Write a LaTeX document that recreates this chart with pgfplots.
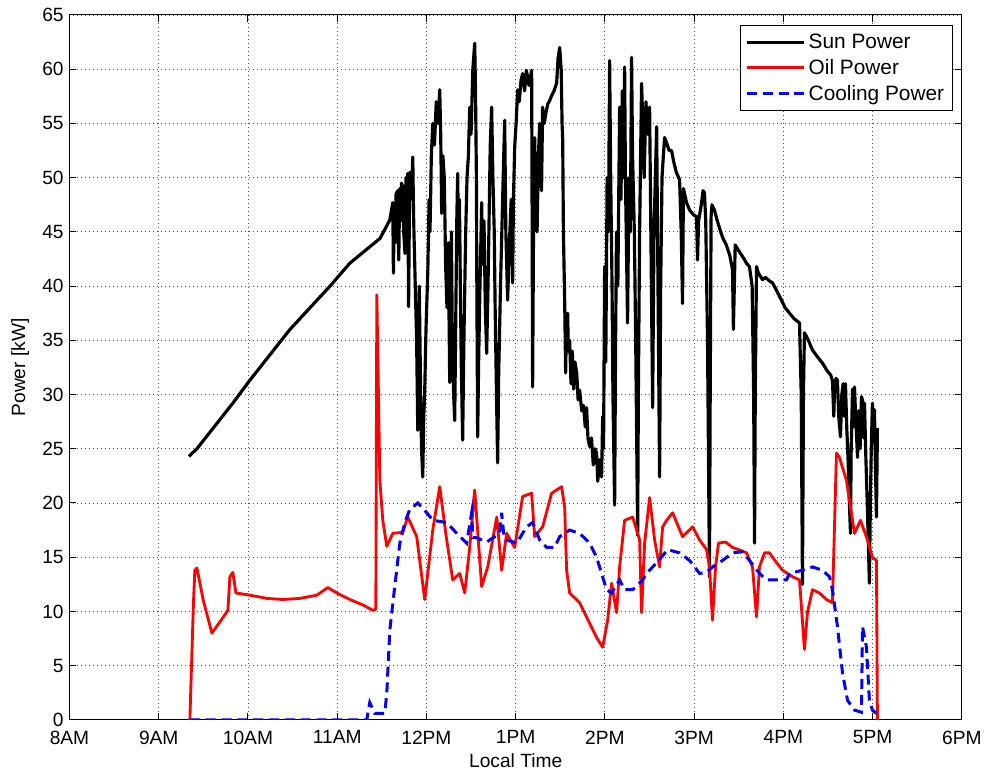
\documentclass[border=0pt]{standalone}
\usepackage{pgfplots}
\pgfplotsset{compat=1.18}
\usepackage{fontspec}
\setmainfont{Liberation Sans}
\begin{document}
\begin{tikzpicture}
\begin{axis}[
  scale only axis,
  width=535.5pt, height=423pt,
  xmin=8, xmax=18, ymin=0, ymax=65,
  xtick={8,9,...,18},
  xticklabels={8AM,9AM,10AM,11AM,12PM,1PM,2PM,3PM,4PM,5PM,6PM},
  ytick={0,5,...,65},
  /pgf/number format/assume math mode=true,
  tick align=inside,
  major tick length=4pt,
  xtick pos=both, ytick pos=both,
  grid=major,
  major grid style={dotted, black!70, line width=0.5pt},
  axis line style={line width=0.6pt},
  tick style={line width=0.6pt, black},
  ticklabel style={font=\fontsize{11.5}{13}\selectfont},
  xticklabel style={yshift=-3pt},
  label style={font=\fontsize{11.5}{13}\selectfont},
  xlabel={Local Time},
  ylabel={Power [kW]},
  xlabel style={yshift=1pt},
  ylabel style={yshift=1pt},
  legend style={at={(0.99,0.986)}, anchor=north east, draw=black, line width=0.5pt,
    font=\fontsize{12.5}{14}\selectfont, cells={anchor=west}, inner sep=3pt, row sep=1pt},
  legend image code/.code={\draw[#1] (0cm,0cm) -- (1.2cm,0cm);},
]
\addplot[black, line width=1.9pt, line join=round] coordinates {
(9.338,24.3) (9.428,25.0) (9.83,29.2) (10.02,31.3) (10.47,36.0) (10.92,40.0) (11.14,42.1) (11.48,44.4) (11.59,46.1) (11.623,47.7)
(11.63,41.2) (11.64,47.5) (11.65,44) (11.66,48.5) (11.679,48.8) (11.69,42.4) (11.70,49.0) (11.71,46) (11.72,49.5) (11.735,49.1) (11.745,45) (11.76,43) (11.77,50) (11.78,47) (11.791,50.4) (11.80,38.1) (11.813,50.5) (11.83,48) (11.847,51.9) (11.855,47) (11.86,45) (11.875,40) (11.89,35) (11.903,26.7) (11.91,33) (11.92,40) (11.935,30) (11.945,25) (11.959,22.4) (11.97,28) (11.98,30) (11.995,36) (12.015,41.2) (12.03,48) (12.04,45) (12.055,52) (12.071,55) (12.09,53) (12.11,57) (12.13,55) (12.149,58.1) (12.16,54) (12.171,46.7) (12.185,52) (12.20,50) (12.215,42) (12.23,38) (12.245,44) (12.261,31.1) (12.27,38) (12.28,45) (12.29,35) (12.305,30) (12.317,27.6) (12.33,38) (12.34,46) (12.350,50.4) (12.36,44) (12.37,48) (12.38,40) (12.39,33) (12.406,25.8) (12.42,35) (12.43,40) (12.44,45) (12.455,50) (12.47,52) (12.485,56.5) (12.50,54) (12.52,60) (12.541,62.4) (12.55,58) (12.56,50) (12.565,40) (12.574,26.1) (12.585,33) (12.60,40) (12.61,44) (12.619,47.7) (12.63,42) (12.645,46) (12.66,38) (12.675,33.8) (12.69,40) (12.70,45) (12.715,53) (12.731,56.5) (12.745,50) (12.76,45) (12.77,38) (12.785,30) (12.798,23.7) (12.81,32) (12.83,40) (12.845,45) (12.86,50) (12.877,55.3) (12.89,45) (12.910,38.7) (12.93,44) (12.95,48) (12.966,40.3) (12.975,48) (12.989,52.8) (13.005,55) (13.022,58.1) (13.04,57) (13.06,59) (13.078,59.6) (13.10,58) (13.12,59.9) (13.15,58.5) (13.179,59.9) (13.185,45) (13.190,30.7) (13.20,45) (13.213,53.7) (13.225,48) (13.24,45) (13.255,52) (13.269,55) (13.28,50) (13.29,48.8) (13.302,56.5) (13.32,55) (13.34,56) (13.36,56.8) (13.381,57.1) (13.40,57.5) (13.43,58) (13.459,58.7) (13.475,61) (13.493,62) (13.51,60) (13.52,55) (13.527,53.5) (13.535,45) (13.549,38.7) (13.56,32) (13.57,37) (13.583,37.5) (13.59,34) (13.605,35) (13.62,31) (13.635,34) (13.65,30.5) (13.665,33) (13.684,32) (13.70,29.5) (13.717,30.4) (13.74,28.5) (13.76,29) (13.78,27) (13.795,28.8) (13.81,26) (13.829,25.2) (13.85,26) (13.87,23.5) (13.89,25) (13.907,24.6) (13.92,22) (13.94,24) (13.963,22.4) (13.975,28) (13.985,25) (13.997,41.8) (14.01,33) (14.025,50) (14.04,45) (14.053,60.8) (14.065,50) (14.08,40) (14.09,30) (14.109,19.8) (14.12,35) (14.13,45) (14.145,40) (14.165,56.5) (14.18,48) (14.195,58) (14.21,50) (14.221,60.2) (14.23,50) (14.254,36.6) (14.27,50) (14.285,45) (14.299,61.1) (14.31,52) (14.33,45) (14.345,35) (14.367,17) (14.375,30) (14.389,45) (14.40,52) (14.411,58.7) (14.425,55) (14.44,50) (14.46,57) (14.48,54) (14.501,56.5) (14.515,45) (14.535,28.8) (14.55,45) (14.565,50) (14.580,54.7) (14.595,40) (14.613,22.4) (14.625,40) (14.64,50) (14.655,52) (14.669,53.7) (14.70,53) (14.72,52.5) (14.747,52.5) (14.77,51.5) (14.80,50.5) (14.837,49.8) (14.855,45) (14.870,38.4) (14.880,49) (14.915,47.7) (14.95,47) (14.99,46.6) (15.027,46.4) (15.038,42.4) (15.05,46) (15.08,47.5) (15.10,48.8) (15.116,48.6) (15.13,46) (15.15,35) (15.172,13.2) (15.18,30) (15.19,46.4) (15.20,47.5) (15.228,47) (15.26,46) (15.29,45.2) (15.318,44.5) (15.36,43.8) (15.40,42.8) (15.43,41.5) (15.44,36) (15.452,40.6) (15.46,43.8) (15.475,43.6) (15.52,43) (15.56,42.5) (15.587,42.1) (15.62,41.8) (15.65,40) (15.667,30) (15.677,16.3) (15.685,30) (15.699,41.8) (15.72,41.2) (15.766,40.6) (15.80,40.8) (15.84,40.5) (15.878,40.3) (15.93,39.5) (15.979,38.7) (16.02,38) (16.069,37.5) (16.12,37) (16.181,36.6) (16.20,30) (16.214,12.5) (16.225,30) (16.236,35.7) (16.28,35) (16.326,34.1) (16.38,33.5) (16.438,32.9) (16.49,32.2) (16.53,31.8) (16.550,31.3) (16.565,28) (16.573,30.4) (16.59,31.5) (16.606,31.3) (16.62,28) (16.640,26.1) (16.655,30) (16.67,31) (16.683,28) (16.696,31) (16.71,27) (16.725,24) (16.74,20) (16.752,17.2) (16.76,25) (16.775,30.5) (16.785,27) (16.797,30.7) (16.81,28) (16.831,24.2) (16.845,28.5) (16.86,25) (16.875,29.8) (16.887,29.5) (16.9,26) (16.909,29.2) (16.925,24) (16.94,20) (16.964,12.6) (16.975,20) (16.985,25) (16.998,29.2) (17.01,26) (17.021,28.6) (17.03,24) (17.043,18.7) (17.054,26.9)
};
\addlegendentry{Sun Power}
\addplot[red, line width=1.7pt, line join=round] coordinates {
(9.349,0) (9.39,11) (9.405,13.8) (9.428,14) (9.50,11) (9.596,8.0) (9.70,9.2) (9.775,10.1) (9.798,13.2) (9.831,13.6) (9.865,11.7) (10.022,11.5) (10.212,11.2) (10.391,11.1) (10.581,11.2) (10.772,11.5) (10.895,12.2) (10.996,11.7) (11.141,11.1) (11.287,10.6) (11.399,10.1) (11.433,10.2) (11.444,39.2) (11.478,22.1) (11.511,18.4) (11.556,16) (11.623,17.2) (11.735,17.3) (11.791,18.7) (11.891,16.9) (11.981,11.1) (12.071,17.5) (12.149,21.5) (12.22,17) (12.295,12.9) (12.373,13.5) (12.429,11.7) (12.485,15.9) (12.541,21.2) (12.619,12.3) (12.687,14.1) (12.788,18.7) (12.843,13.8) (12.899,17.2) (12.989,15.9) (13.078,20.6) (13.179,20.9) (13.213,16.9) (13.302,17.8) (13.403,20.9) (13.515,21.5) (13.549,19.6) (13.571,13.8) (13.605,11.7) (13.717,10.8) (13.829,8.9) (13.907,7.6) (13.975,6.7) (14.031,9.2) (14.075,12.6) (14.131,9.9) (14.165,14.1) (14.221,18.4) (14.311,18.7) (14.389,16.6) (14.411,9.9) (14.445,16.3) (14.501,20.5) (14.557,16.6) (14.613,14.1) (14.647,17.8) (14.692,18.4) (14.759,19.1) (14.870,16.9) (14.983,17.8) (15.061,16.6) (15.139,15.7) (15.172,14.1) (15.206,9.2) (15.240,14.1) (15.273,16.3) (15.352,16.4) (15.430,15.9) (15.498,15.7) (15.587,15.4) (15.654,14.1) (15.699,9.5) (15.732,14.1) (15.789,15.4) (15.844,15.4) (15.923,14.5) (15.990,13.8) (16.102,13.2) (16.181,12.9) (16.236,6.5) (16.270,9.9) (16.326,12.0) (16.404,11.7) (16.483,11.1) (16.550,10.8) (16.595,24.6) (16.628,24.2) (16.707,22.1) (16.775,18.4) (16.797,17.2) (16.864,18.4) (16.942,16.6) (16.998,15.0) (17.043,14.7) (17.054,0)
};
\addlegendentry{Oil Power}
\addplot[blue, line width=1.8pt, dash pattern=on 6pt off 3.5pt] coordinates {
(9.349,0) (11.331,0) (11.365,1.6) (11.421,0.6) (11.533,0.6) (11.556,2.5) (11.590,8.3) (11.645,12.3) (11.702,16.3) (11.758,18.2) (11.813,19.4) (11.903,20) (12.004,19.1) (12.071,18.4) (12.228,18.2) (12.340,17.2) (12.451,16.3) (12.507,19.1) (12.52,16.8) (12.563,16.8) (12.675,16.4) (12.821,17.2) (12.843,19.1) (12.87,16.8) (12.899,16.6) (13.011,16.3) (13.123,17.8) (13.190,18.2) (13.269,16.6) (13.347,15.9) (13.437,15.9) (13.493,16.9) (13.605,17.5) (13.717,17.2) (13.829,16.3) (13.907,15) (13.963,13.5) (14.019,12.0) (14.075,11.7) (14.165,12.9) (14.221,12.0) (14.311,12.0) (14.411,12.8) (14.501,13.8) (14.613,14.8) (14.703,15.7) (14.837,15.4) (14.949,14.7) (15.061,13.5) (15.139,13.6) (15.206,14.1) (15.318,14.7) (15.430,15.4) (15.542,15.5) (15.621,14.7) (15.732,13.5) (15.811,12.9) (15.923,12.9) (16.035,12.9) (16.069,13.5) (16.214,13.8) (16.326,14.1) (16.438,13.8) (16.517,13.2) (16.550,12) (16.606,8.6) (16.663,4.3) (16.719,1.8) (16.797,0.9) (16.875,0.7) (16.887,8.6) (16.931,6.7) (16.964,1.8) (16.998,0.9) (17.043,0.6)
};
\addlegendentry{Cooling Power}
\end{axis}
\path (-41.7pt,-33pt) rectangle (553pt,432pt);
\end{tikzpicture}
\end{document}
